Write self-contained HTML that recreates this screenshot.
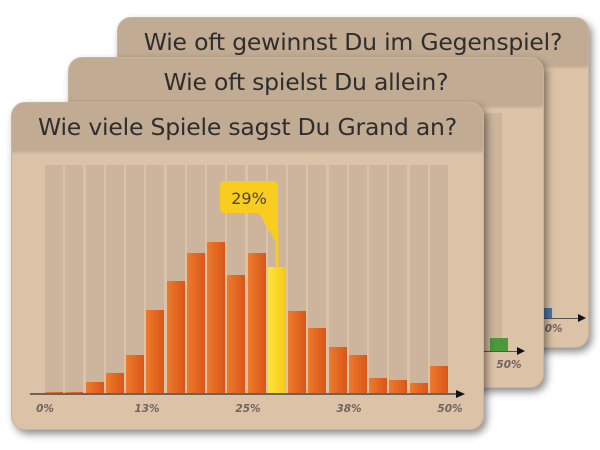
<!DOCTYPE html>
<html><head><meta charset="utf-8"><style>
body{margin:0;width:600px;height:450px;background:#fff;position:relative;overflow:hidden;font-family:"DejaVu Sans","Liberation Sans",sans-serif}
.card{position:absolute;background:#dcc2a6;border-radius:14px;box-shadow:3px 4px 8px rgba(0,0,0,.45);overflow:hidden;border:1px solid #c8b49c}
.hd{position:absolute;left:0;right:0;top:0;height:47px;background:#c1ab92;box-shadow:0 2px 3px rgba(0,0,0,.15);text-align:center;color:#2e2e2e;font-size:23.5px;line-height:49px;white-space:nowrap;letter-spacing:-0.2px}
.col{position:absolute;background:#cdb59d;width:18px}
.bar{position:absolute;width:18px;background:linear-gradient(90deg,#ee7a2a,#d8561a)}
.lbl{position:absolute;font-size:10.5px;font-style:italic;font-weight:bold;color:#6e655c;transform:translateX(-50%)}
</style></head><body>
<div class="card" style="left:117px;top:17px;width:470px;height:329px">
<div class="hd">Wie oft gewinnst Du im Gegenspiel?</div>
<div style="position:absolute;left:420px;top:300px;width:40px;height:1px;background:#555"></div>
<div style="position:absolute;left:418px;top:290px;width:16px;height:10px;background:#4a78a8"></div>
<div style="position:absolute;left:460px;top:296px;border-left:8px solid #111;border-top:4px solid transparent;border-bottom:4px solid transparent"></div>
<div class="lbl" style="left:432px;top:305px">30%</div>
</div>
<div class="card" style="left:68px;top:57px;width:474px;height:329px">
<div class="hd">Wie oft spielst Du allein?</div>
<div style="position:absolute;left:415px;top:55px;width:18px;height:238px;background:#cdb59d"></div>
<div style="position:absolute;left:400px;top:293px;width:50px;height:1px;background:#555"></div>
<div style="position:absolute;left:421px;top:280px;width:18px;height:13px;background:#4a9a3a"></div>
<div style="position:absolute;left:448px;top:289px;border-left:8px solid #111;border-top:4px solid transparent;border-bottom:4px solid transparent"></div>
<div class="lbl" style="left:440px;top:301px">50%</div>
</div>
<div class="card" style="left:11px;top:102px;width:471px;height:326px" id="c1">
<div class="hd">Wie viele Spiele sagst Du Grand an?</div>
</div>
<div id="plot" style="position:absolute;left:0;top:0"></div>
<script>
var tops=[392,392,382,373,355,310,281,253,242,275,253,267,311,328,347,355,378,380,383,366];
var h='';
for(var i=0;i<20;i++){var x=45+i*20.25;
h+='<div class="col" style="left:'+x+'px;top:165px;height:229px"></div>';
h+='<div class="bar" style="left:'+x+'px;top:'+tops[i]+'px;height:'+(394-tops[i])+'px;'+(i==11?'background:linear-gradient(90deg,#fbe43a,#f7c81a)':'')+'"></div>';}
document.getElementById('plot').innerHTML=h;
</script>
<div style="position:absolute;left:30px;top:393px;width:428px;height:2px;background:#6b625a"></div>
<div style="position:absolute;left:456px;top:390px;border-left:9px solid #111;border-top:4px solid transparent;border-bottom:4px solid transparent"></div>
<div class="lbl" style="left:45px;top:403px">0%</div>
<div class="lbl" style="left:147px;top:403px">13%</div>
<div class="lbl" style="left:248px;top:403px">25%</div>
<div class="lbl" style="left:349px;top:403px">38%</div>
<div class="lbl" style="left:450px;top:403px">50%</div>
<svg style="position:absolute;left:0;top:0" width="600" height="450">
<path d="M225 181 H273 Q278 181 278 186 V246 L259 213 H225 Q220 213 220 208 V186 Q220 181 225 181Z" fill="#f9cc20"/>
<rect x="275.5" y="230" width="3" height="38" fill="#f9cc20"/>
<text x="249" y="204" font-size="16" font-family="DejaVu Sans, sans-serif" fill="#444" text-anchor="middle">29%</text>
</svg>
</body></html>
